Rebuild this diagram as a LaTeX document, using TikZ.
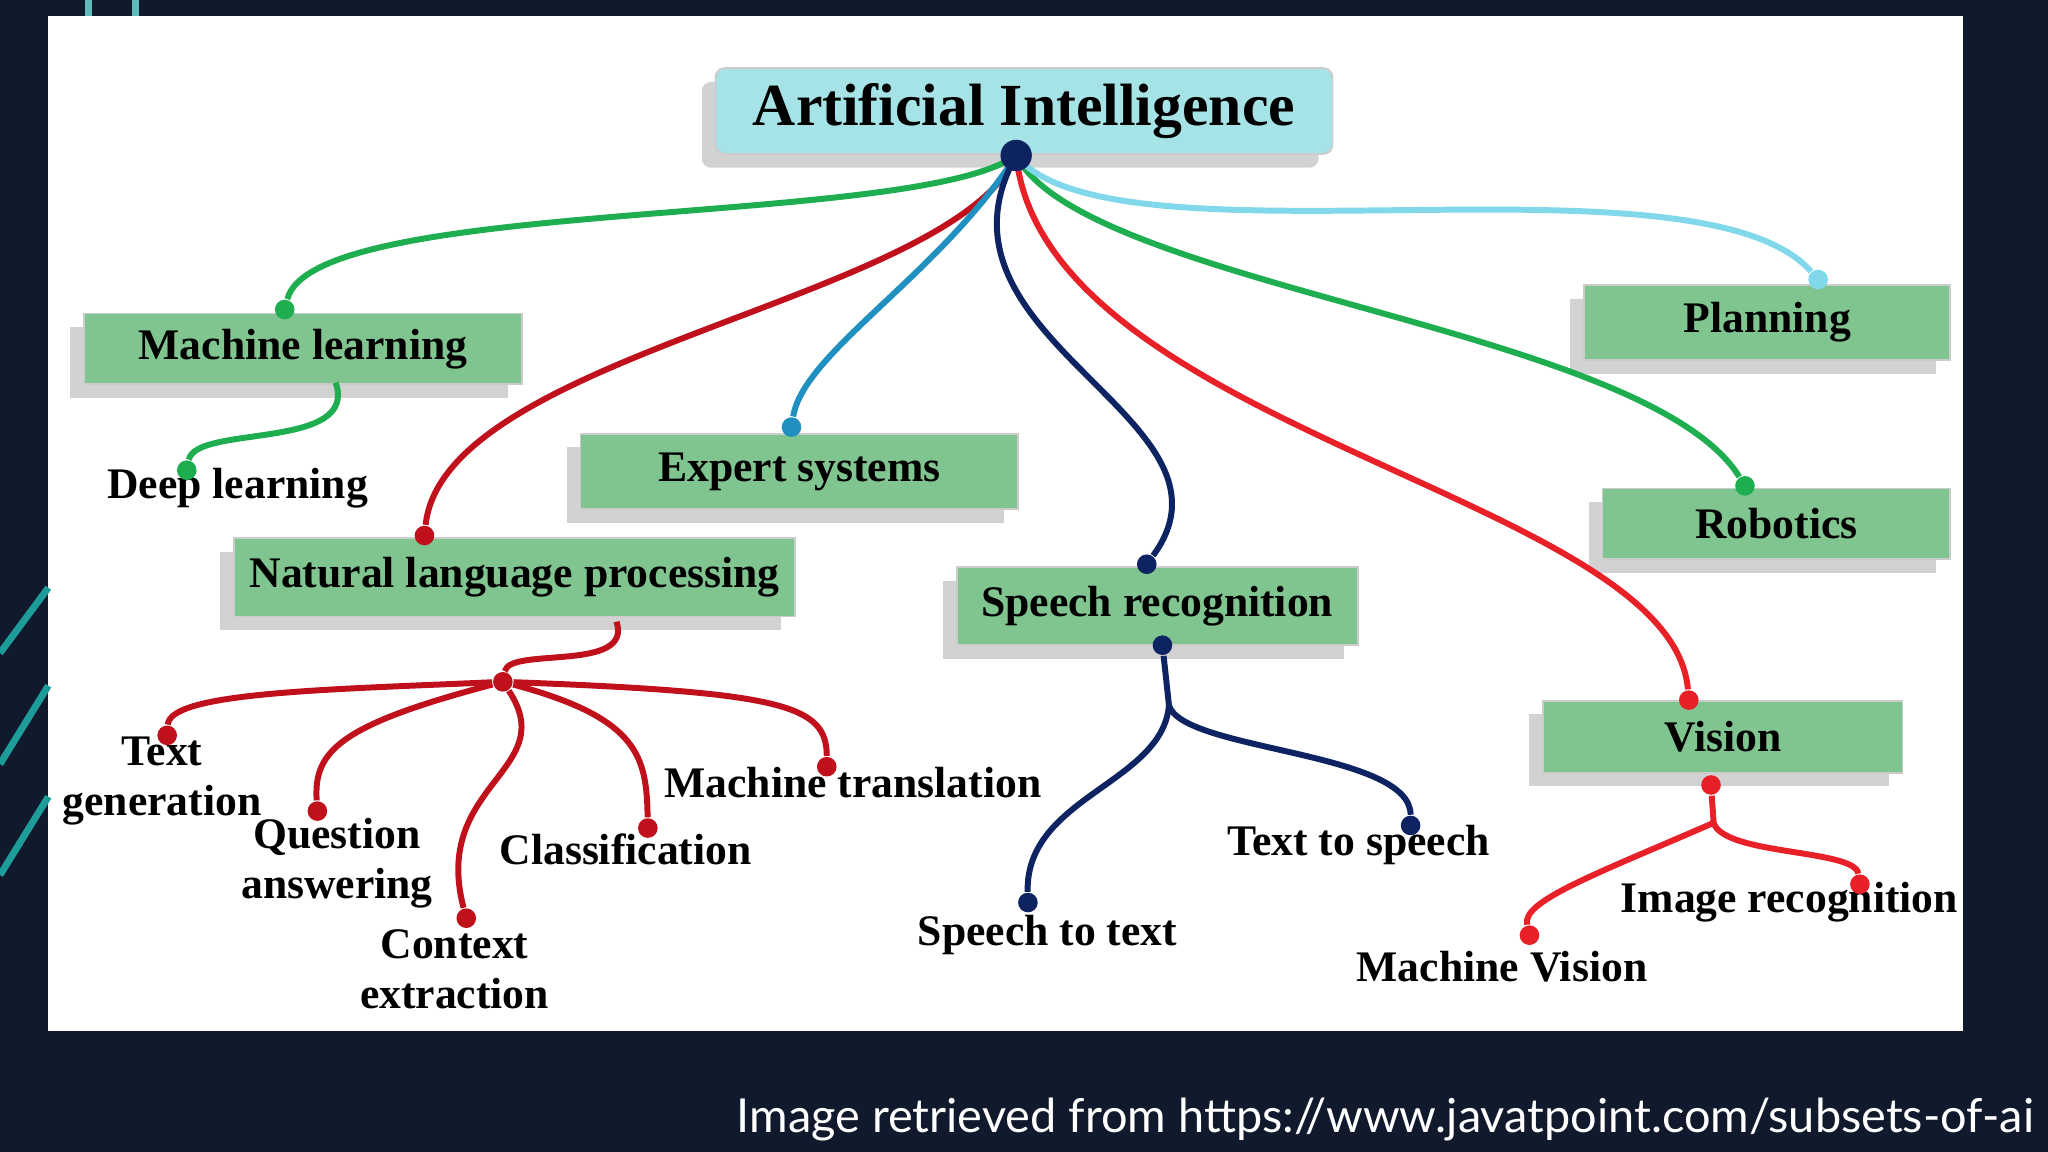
\documentclass[tikz,border=0pt]{standalone}
\usepackage{fontspec}
\setmainfont{Liberation Serif}
\newfontfamily\capfont{Lato}
\usetikzlibrary{shadows}
\definecolor{bgnavy}{HTML}{101A2C}
\definecolor{boxgreen}{HTML}{80C490}
\definecolor{titlecyan}{HTML}{A6E3E6}
\definecolor{lgreen}{HTML}{1EAE50}
\definecolor{dred}{HTML}{C0101C}
\definecolor{bred}{HTML}{E82028}
\definecolor{navy}{HTML}{0E2462}
\definecolor{mblue}{HTML}{2090C0}
\definecolor{lblue}{HTML}{80D8EA}
\definecolor{teal}{HTML}{1E9C9A}
\tikzset{
  box/.style={draw=gray!40,fill=boxgreen,drop shadow={opacity=0.35,shadow xshift=-3pt,shadow yshift=-3pt},font=\fontsize{9.5}{11}\selectfont\bfseries},
  lbl/.style={font=\fontsize{9.5}{11}\selectfont\bfseries,align=center,inner sep=0},
  dot/.style={circle,fill=#1,inner sep=0,minimum size=0.15cm},
  con/.style={draw=#1,line width=1.3pt}
}
\begin{document}
\begin{tikzpicture}[x=0.01cm,y=-0.01cm]
\fill[bgnavy] (0,0) rectangle (1568,882);
\useasboundingbox (0,0) rectangle (1568,882);
\fill[white] (37,12) rectangle (1503,789);
\draw[teal,line width=1.5pt] (0,585) -- (37,525);
\draw[teal,line width=1.5pt] (0,670) -- (37,610);
\draw[teal,line width=1.5pt] (0,500) -- (37,450);
\draw[teal!70,line width=1.5pt] (68,0) -- (68,12) (104,0) -- (104,12);
\node[anchor=south east,text=white,font=\capfont\fontsize{10.2}{12}\selectfont,inner sep=0] (cap) at (1558,874) {Image retrieved from https://www.javatpoint.com/subsets-of-ai};

% boxes
\node[box,fill=titlecyan,rounded corners=2pt,minimum width=4.72cm,minimum height=0.6cm,font=\fontsize{13}{14}\selectfont\bfseries] (ai) at (784,85) {Artificial Intelligence};
\node[box,minimum width=3.35cm,minimum height=0.51cm] (ml) at (232,267) {Machine learning};
\node[box,minimum width=3.35cm,minimum height=0.58cm] (es) at (612,361) {Expert systems};
\node[box,minimum width=4.18cm,minimum height=0.6cm] (nlp) at (394,442) {Natural language processing};
\node[box,minimum width=3.07cm,minimum height=0.6cm] (sr) at (886,464) {Speech recognition};
\node[box,minimum width=2.8cm,minimum height=0.57cm] (pl) at (1353,247) {Planning};
\node[box,minimum width=2.66cm,minimum height=0.54cm] (rb) at (1360,401) {Robotics};
\node[box,minimum width=2.75cm,minimum height=0.55cm] (vi) at (1319,564) {Vision};

% labels
\node[lbl] (dl) at (182,374) {Deep learning};
\node[lbl] (tg) at (124,598) {Text\\generation};
\node[lbl] (qa) at (258,661) {Question\\answering};
\node[lbl] (ce) at (348,742) {Context\\extraction};
\node[lbl] (cl) at (479,650) {Classification};
\node[lbl] (mt) at (653,599) {Machine translation};
\node[lbl] (st) at (802,716) {Speech to text};
\node[lbl] (ts) at (1040,647) {Text to speech};
\node[lbl] (mv) at (1150,740) {Machine Vision};
\node[lbl] (ir) at (1370,691) {Image recognition};

% dots
\coordinate (root) at (778,119);
\node[dot=lgreen] (dml) at (218,237) {};
\node[dot=dred] (dnlp) at (325,410) {};
\node[dot=mblue] (des) at (606,327) {};
\node[dot=navy] (dsr) at (878,432) {};
\node[dot=bred] (dvi) at (1293,536) {};
\node[dot=lgreen] (drb) at (1336,372) {};
\node[dot=lblue] (dpl) at (1392,214) {};
\node[dot=lgreen] (ddl) at (143,360) {};
\coordinate (mlb) at (257,293);
\coordinate (nlpb) at (472,476);
\node[dot=dred] (hub) at (385,522) {};
\node[dot=dred] (dtg) at (128,563) {};
\node[dot=dred] (dqa) at (243,621) {};
\node[dot=dred] (dce) at (357,703) {};
\node[dot=dred] (dcl) at (496,634) {};
\node[dot=dred] (dmt) at (633,587) {};
\node[dot=navy] (dsrb) at (890,494) {};
\coordinate (shub) at (895,540);
\node[dot=navy] (dst) at (787,691) {};
\node[dot=navy] (dts) at (1080,632) {};
\node[dot=bred] (dvib) at (1310,601) {};
\coordinate (vhub) at (1312,630);
\node[dot=bred] (dmv) at (1171,716) {};
\node[dot=bred] (dir) at (1424,677) {};

% connectors from root
\draw[con=lgreen] (root) .. controls (700,175) and (240,150) .. (dml);
\draw[con=dred] (root) .. controls (730,230) and (340,270) .. (dnlp);
\draw[con=mblue] (root) .. controls (720,210) and (615,270) .. (des);
\draw[con=navy] (root) .. controls (700,260) and (960,320) .. (dsr);
\draw[con=bred] (root) .. controls (800,330) and (1280,380) .. (dvi);
\draw[con=lgreen] (root) .. controls (830,220) and (1260,250) .. (drb);
\draw[con=lblue] (root) .. controls (850,210) and (1300,110) .. (dpl);
\node[dot=navy,minimum size=0.24cm] (rootdot) at (root) {};
% sub
\draw[con=lgreen] (mlb) .. controls (275,345) and (150,325) .. (ddl);
\draw[con=dred] (nlpb) .. controls (485,515) and (390,495) .. (hub);
\draw[con=dred] (hub) .. controls (250,528) and (130,530) .. (dtg);
\draw[con=dred] (hub) .. controls (260,555) and (240,575) .. (dqa);
\draw[con=dred] (hub) .. controls (430,590) and (330,600) .. (dce);
\draw[con=dred] (hub) .. controls (490,550) and (495,580) .. (dcl);
\draw[con=dred] (hub) .. controls (600,530) and (633,540) .. (dmt);
\draw[con=navy] (dsrb) -- (shub);
\draw[con=navy] (shub) .. controls (890,600) and (785,610) .. (dst);
\draw[con=navy] (shub) .. controls (905,575) and (1080,575) .. (dts);
\draw[con=bred] (dvib) -- (vhub);
\draw[con=bred] (vhub) .. controls (1220,670) and (1165,690) .. (dmv);
\draw[con=bred] (vhub) .. controls (1320,655) and (1420,650) .. (dir);
\end{tikzpicture}
\end{document}
